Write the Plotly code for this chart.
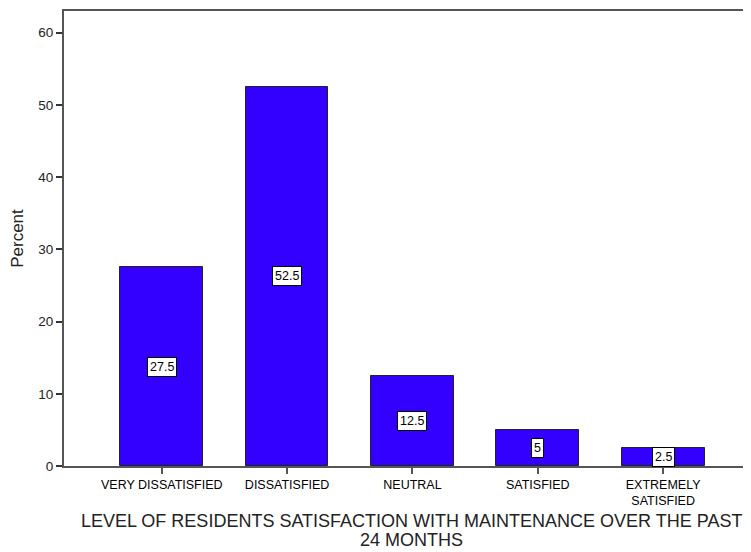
import plotly.graph_objects as go

categories = ["VERY DISSATISFIED", "DISSATISFIED", "NEUTRAL", "SATISFIED", "EXTREMELY<br>SATISFIED"]
percent = [27.5, 52.5, 12.5, 5, 2.5]
value_labels = ["27.5", "52.5", "12.5", "5", "2.5"]
y_ticks = [0, 10, 20, 30, 40, 50, 60]
title_lines = ["LEVEL OF RESIDENTS SATISFACTION WITH MAINTENANCE OVER THE PAST", "24 MONTHS"]

xpos = list(range(len(categories)))
FONT = "Arial, Liberation Sans, sans-serif"

fig = go.Figure()
fig.add_trace(go.Bar(
    x=xpos, y=percent, width=0.66,
    marker=dict(color="#3300FF", line=dict(color="#222222", width=1)),
    hoverinfo="skip",
))

for xi, v, t in zip(xpos, percent, value_labels):
    fig.add_annotation(x=xi, y=v / 2, text=t, showarrow=False,
                       bgcolor="white", bordercolor="black", borderwidth=1, borderpad=2,
                       font=dict(family=FONT, size=12.5, color="black"))

for line, ypos in zip(title_lines, [-0.1209, -0.1626]):
    fig.add_annotation(xref="paper", yref="paper", x=0.508, y=ypos, yanchor="middle",
                       text=line, showarrow=False,
                       font=dict(family=FONT, size=18, color="#222222"))

fig.update_layout(
    width=743, height=544,
    margin=dict(l=56, r=0, t=3, b=86),
    plot_bgcolor="white", paper_bgcolor="white",
    showlegend=False,
    bargap=0,
    xaxis=dict(range=[-0.78, 4.685], tickvals=xpos, ticktext=categories,
               showgrid=False, zeroline=False, showline=True, linecolor="#555555", linewidth=2,
               ticks="outside", ticklen=6, tickcolor="#555555", tickwidth=2,
               tickfont=dict(family=FONT, size=12.5, color="black"),
               mirror=True),
    yaxis=dict(range=[0, 63], tickvals=y_ticks, showgrid=False, zeroline=False,
               showline=True, linecolor="#555555", linewidth=2,
               ticks="outside", ticklen=6, tickcolor="#333333", tickwidth=2,
               tickfont=dict(family=FONT, size=13.5, color="#222222"),
               title=dict(text="Percent", font=dict(family=FONT, size=17, color="#222222"), standoff=10),
               mirror=True),
)

fig.write_html("out.html")
